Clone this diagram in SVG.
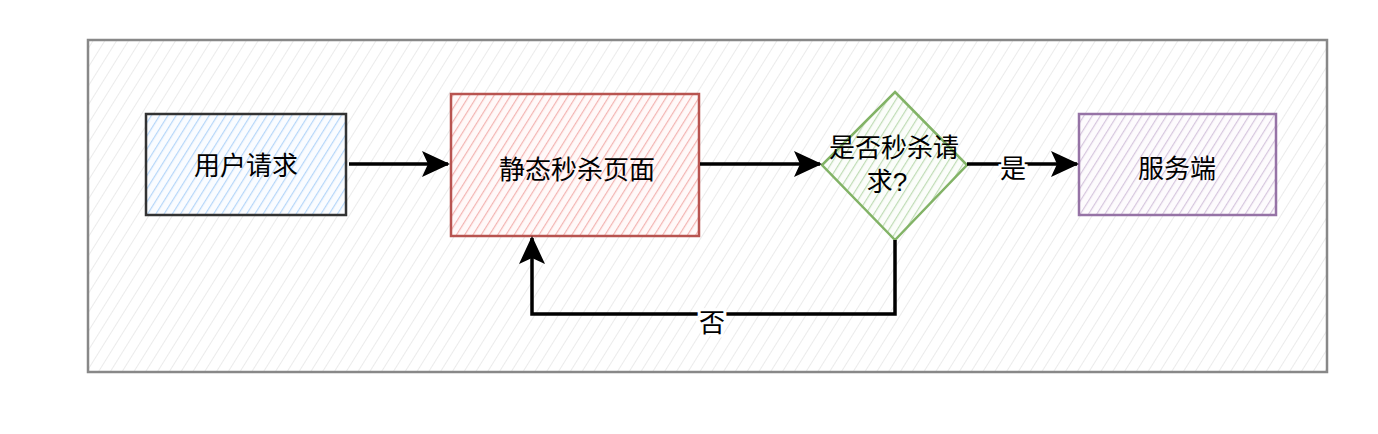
<svg xmlns="http://www.w3.org/2000/svg" width="1378" height="434" viewBox="0 0 1378 434">
<style>
text{font-family:"Noto Sans CJK SC","Liberation Sans",sans-serif;font-size:26px;fill:#000;text-anchor:middle;dominant-baseline:central}
.edge{fill:none;stroke:#000;stroke-width:3.5}
.lbl{paint-order:stroke;stroke:#fff;stroke-width:6px}
</style>
<defs>
<pattern id="hg" width="10" height="10" patternUnits="userSpaceOnUse" patternTransform="rotate(32)">
<rect width="10" height="10" fill="#fff"/><line x1="0" y1="0" x2="0" y2="10" stroke="#ebebeb" stroke-width="2"/></pattern>
<pattern id="hb" width="7" height="7" patternUnits="userSpaceOnUse" patternTransform="rotate(32)">
<rect width="7" height="7" fill="#fafcff"/><line x1="0" y1="0" x2="0" y2="7" stroke="#b5d6f9" stroke-width="2.4"/></pattern>
<pattern id="hr" width="7" height="7" patternUnits="userSpaceOnUse" patternTransform="rotate(32)">
<rect width="7" height="7" fill="#fff9f9"/><line x1="0" y1="0" x2="0" y2="7" stroke="#f3b4b2" stroke-width="2.4"/></pattern>
<pattern id="hgr" width="7" height="7" patternUnits="userSpaceOnUse" patternTransform="rotate(32)">
<rect width="7" height="7" fill="#fbfdfa"/><line x1="0" y1="0" x2="0" y2="7" stroke="#bfdcb5" stroke-width="2.4"/></pattern>
<pattern id="hp" width="7" height="7" patternUnits="userSpaceOnUse" patternTransform="rotate(32)">
<rect width="7" height="7" fill="#fdfbfd"/><line x1="0" y1="0" x2="0" y2="7" stroke="#d6c6de" stroke-width="2.4"/></pattern>
<marker id="arr" markerWidth="28" markerHeight="26" refX="26" refY="13" orient="auto" markerUnits="userSpaceOnUse">
<path d="M0,0 L28,13 L0,26 L6,13 Z" fill="#000"/></marker>
</defs>
<g id="container">
<rect x="88" y="40" width="1239" height="332" fill="url(#hg)" stroke="#888" stroke-width="2.5"/>
</g>
<g id="n1">
<rect x="146" y="114" width="200" height="101" fill="url(#hb)" stroke="#333" stroke-width="2.5"/>
<text x="246" y="163">用户请求</text>
</g>
<g id="n2">
<rect x="451" y="94" width="248" height="142" fill="url(#hr)" stroke="#b85450" stroke-width="2.5"/>
<text x="577" y="167">静态秒杀页面</text>
</g>
<g id="n3">
<polygon points="895,92 967,165 895,240 822,165" fill="url(#hgr)" stroke="#82b366" stroke-width="2.5"/>
<text x="894" y="148" style="font-family:'Liberation Sans','Noto Sans CJK SC',sans-serif">是否秒杀请</text>
<text x="887" y="182" style="font-family:'Liberation Sans','Noto Sans CJK SC',sans-serif">求?</text>
</g>
<g id="n4">
<rect x="1079" y="114" width="197" height="101" fill="url(#hp)" stroke="#9673a6" stroke-width="2.5"/>
<text x="1177" y="166">服务端</text>
</g>
<g id="connectors">
<path class="edge" d="M349,164 L448,164" marker-end="url(#arr)"/>
<path class="edge" d="M700,164 L820,164" marker-end="url(#arr)"/>
<path class="edge" d="M967,164 L1077,164" marker-end="url(#arr)"/>
<path class="edge" d="M895,240 L895,314 L532,314 L532,238" marker-end="url(#arr)"/>
<text class="lbl" x="1013" y="166">是</text>
<text class="lbl" x="712" y="320">否</text>
</g>
</svg>
